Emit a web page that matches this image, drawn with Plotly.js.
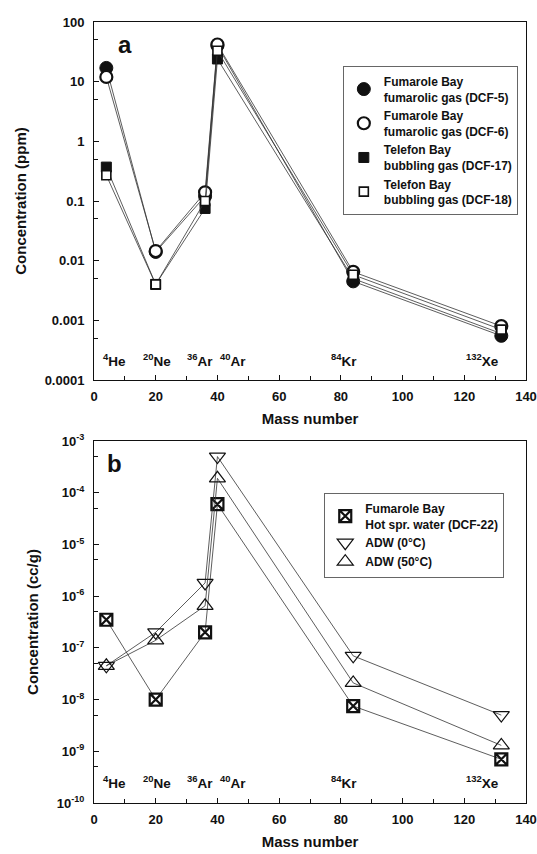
<!DOCTYPE html>
<html><head><meta charset="utf-8">
<script src="https://cdn.plot.ly/plotly-3.0.1.min.js"></script>
<style>body{margin:0;background:#fff}#c{width:537px;height:854px}</style>
</head><body><div id="c"></div>
<script>
const mass = [4, 20, 36, 40, 84, 132];
const isoLabels = ['<sup>4</sup>He','<sup>20</sup>Ne','<sup>36</sup>Ar','<sup>40</sup>Ar','<sup>84</sup>Kr','<sup>132</sup>Xe'];
// panel a (ppm)
const dcf5  = [17, 0.014, 0.12, 40, 0.0045, 0.00055];
const dcf6  = [12, 0.0145, 0.14, 42, 0.0065, 0.0008];
const dcf17 = [0.37, 0.004, 0.075, 24, 0.005, 0.0006];
const dcf18 = [0.27, 0.004, 0.10, 33, 0.0058, 0.0007];
// panel b (cc/g)
const dcf22 = [3.5e-7, 1.0e-8, 2.0e-7, 6.0e-5, 7.5e-9, 7.0e-10];
const adw0  = [4.5e-8, 2.0e-7, 1.8e-6, 5.0e-4, 7.0e-8, 5.0e-9];
const adw50 = [4.5e-8, 1.4e-7, 6.5e-7, 1.9e-4, 2.1e-8, 1.3e-9];
const namesA = ['Fumarole Bay<br>fumarolic gas (DCF-5)','Fumarole Bay<br>fumarolic gas (DCF-6)','Telefon Bay<br>bubbling gas (DCF-17)','Telefon Bay<br>bubbling gas (DCF-18)'];
const namesB = ['Fumarole Bay<br>Hot spr. water (DCF-22)','ADW (0°C)','ADW (50°C)'];
const yTicksA = [1e-4,1e-3,1e-2,0.1,1,10,100];
const yTextA = ['0.0001','0.001','0.01','0.1','1','10','100'];
const yTicksB = [1e-10,1e-9,1e-8,1e-7,1e-6,1e-5,1e-4,1e-3];
const yTextB = ['10<sup>-10</sup>','10<sup>-9</sup>','10<sup>-8</sup>','10<sup>-7</sup>','10<sup>-6</sup>','10<sup>-5</sup>','10<sup>-4</sup>','10<sup>-3</sup>'];

const F = {family:'Arial, Liberation Sans, sans-serif', color:'#111', weight:'bold'};
const line = {color:'#333', width:0.8};
const data = [];
function tr(y, name, sym, size, fill, lw, xa, ya, leg){
  const mk = {symbol:sym, size:size, color:fill, line:{color:'#111', width:lw}};
  data.push({x:mass, y:y, name:name, mode:'lines+markers', xaxis:xa, yaxis:ya, showlegend:false,
    line:line, marker:mk});
  data.push({x:[null], y:[null], name:name, mode:'markers', xaxis:xa, yaxis:ya, legend:leg, marker:mk});
}
tr(dcf5, namesA[0], 'circle', 13, '#111', 1, 'x', 'y', 'legend');
tr(dcf6, namesA[1], 'circle', 12, '#fff', 2.2, 'x', 'y', 'legend');
tr(dcf17, namesA[2], 'square', 10, '#111', 1, 'x', 'y', 'legend');
tr(dcf18, namesA[3], 'square', 9, '#fff', 1.6, 'x', 'y', 'legend');
tr(dcf22, namesB[0], 'square-x-open', 12, '#111', 2.2, 'x2', 'y2', 'legend2');
tr(adw0, namesB[1], 'triangle-down-open', 14, '#111', 1.2, 'x2', 'y2', 'legend2');
tr(adw50, namesB[2], 'triangle-up-open', 14, '#111', 1.2, 'x2', 'y2', 'legend2');

const minorA = [], minorB = [];
for (let e=-4;e<2;e++) minorA.push(5*Math.pow(10,e));
for (let e=-10;e<-3;e++) minorB.push(5*Math.pow(10,e));

function xax(anchor){
  return {anchor:anchor, range:[0,140], tickvals:[0,20,40,60,80,100,120,140], ticks:'inside', ticklen:5,
    tickcolor:'#111', showline:true, mirror:true, linecolor:'#111', linewidth:1, showgrid:false, zeroline:false,
    ticklabeloverflow:'allow', ticklabelstandoff:4,
    minor:{tickvals:[10,30,50,70,90,110,130], ticks:'inside', ticklen:4, tickcolor:'#111'},
    tickfont:{...F, size:13}, title:{text:'Mass number', font:{...F, size:15}, standoff:10}};
}
function yax(anchor, dom, rng, tv, tt, minor, title){
  return {anchor:anchor, domain:dom, type:'log', range:rng, tickvals:tv, ticktext:tt, ticks:'inside', ticklen:5,
    tickcolor:'#111', showline:true, mirror:true, linecolor:'#111', linewidth:1, showgrid:false, zeroline:false,
    ticklabeloverflow:'allow', ticklabelstandoff:6,
    minor:{tickvals:minor, ticks:'inside', ticklen:4, tickcolor:'#111'},
    tickfont:{...F, size:13}, title:{text:title, font:{...F, size:15}, standoff:14}};
}
const ann = [];
const labX = [6.5, 20.5, 34.5, 45, 81, 126];
isoLabels.forEach((t,i)=>{
  ann.push({x:labX[i], y:Math.log10(2.2e-4), xref:'x', yref:'y', text:t, showarrow:false, font:{...F, size:13.5}});
  ann.push({x:labX[i], y:Math.log10(2.5e-10), xref:'x2', yref:'y2', text:t, showarrow:false, font:{...F, size:13.5}});
});
ann.push({x:10, y:Math.log10(42), xref:'x', yref:'y', text:'a', showarrow:false, font:{...F, size:24}});
ann.push({x:6.5, y:Math.log10(3.6e-4), xref:'x2', yref:'y2', text:'b', showarrow:false, font:{...F, size:24}});

const legStyle = {bgcolor:'#fff', bordercolor:'#666', borderwidth:1, font:{...F, size:12}, tracegroupgap:2, itemsizing:'trace'};
const layout = {
  width:537, height:854, margin:{l:94, r:11, t:22, b:51},
  paper_bgcolor:'#fff', plot_bgcolor:'#fff', font:F, showlegend:true,
  xaxis:xax('y'), xaxis2:xax('y2'),
  yaxis:yax('x', [0.5416,1], [-4,2], yTicksA, yTextA, minorA, 'Concentration (ppm)'),
  yaxis2:yax('x2', [0,0.4635], [-10,-3], yTicksB, yTextB, minorB, 'Concentration (cc/g)'),
  legend:{...legStyle, x:0.576, y:0.9437, xanchor:'left', yanchor:'top'},
  legend2:{...legStyle, x:0.533, y:0.397, xanchor:'left', yanchor:'top'},
  annotations:ann
};
Plotly.newPlot('c', data, layout, {displayModeBar:false, staticPlot:true});
</script></body></html>
